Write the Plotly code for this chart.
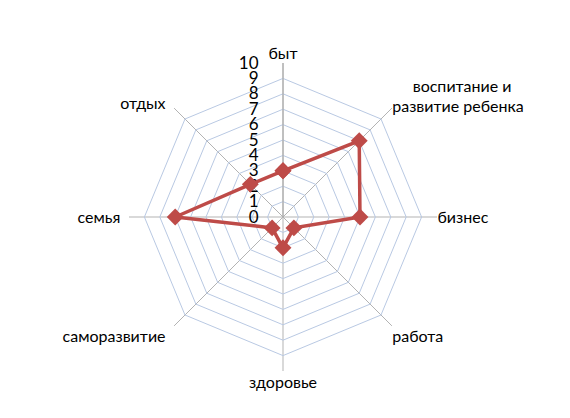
import plotly.graph_objects as go

categories = ["быт", "&nbsp;&nbsp;&nbsp;&nbsp;&nbsp;воспитание и<br>развитие ребенка", "бизнес", "работа",
              "здоровье", "саморазвитие&nbsp;&nbsp;", "семья&nbsp;&nbsp;", "отдых&nbsp;&nbsp;"]
values = [3, 7, 5, 1, 2, 1, 7, 3]
tick_vals = list(range(0, 11))

fig = go.Figure()
fig.add_trace(go.Scatterpolar(
    r=values + [values[0]],
    theta=categories + [categories[0]],
    mode="lines+markers",
    line=dict(color="#BE4B48", width=3.5),
    marker=dict(symbol="diamond", size=13, color="#BE4B48"),
    showlegend=False,
))

fig.update_layout(
    width=570, height=418,
    margin=dict(l=0, r=0, t=0, b=0),
    paper_bgcolor="white",
    font=dict(family="Lato, Open Sans, sans-serif", color="#000000"),
    polar=dict(
        domain=dict(x=[121/570, 429/570], y=[55/418, 363/418]),
        bgcolor="white",
        gridshape="linear",
        angularaxis=dict(
            direction="clockwise", rotation=90,
            showline=False,
            gridcolor="#B3B3B3", gridwidth=1,
            ticks="", tickfont=dict(size=16, color="#000"),
            layer="below traces",
        ),
        radialaxis=dict(
            range=[0, 10], tickvals=tick_vals, angle=90, side="counterclockwise",
            showline=True, linecolor="#A6A6A6", linewidth=1,
            gridcolor="#B9C9E3", gridwidth=1,
            ticks="outside", ticklen=18, tickcolor="rgba(0,0,0,0)",
            tickfont=dict(size=17, color="#000"),
            tickangle=90,
            layer="below traces",
        ),
    ),
)

fig.write_html("out.html")
